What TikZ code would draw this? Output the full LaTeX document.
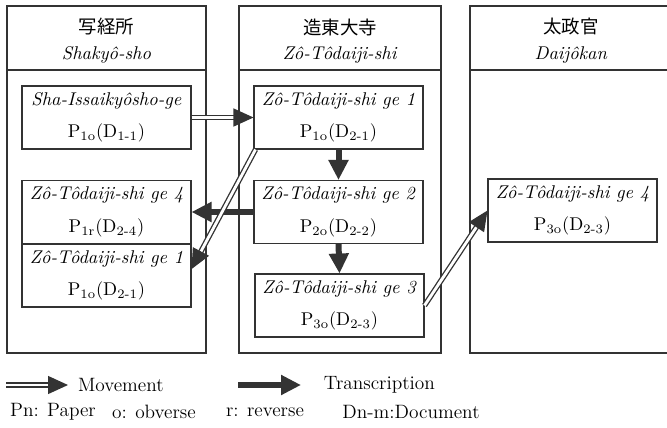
\documentclass[tikz,border=0pt]{standalone}
\usepackage{fontspec}
\newfontfamily\cjk{Noto Sans CJK JP}
\usetikzlibrary{arrows.meta,calc}
\tikzset
{
  office/.style={draw=black!80,line width=0.7pt},
  docbox/.style={draw=black!80,line width=0.6pt,minimum width=3.38cm,minimum height=1.26cm,inner sep=0pt,align=center},
  movement/.style={draw=black!80,double,double distance=1.6pt,line width=0.75pt,-{Triangle[length=0.4cm,width=0.36cm]}},
  transcription/.style={draw=black!80,line width=0.12cm,-{Triangle[length=0.4cm,width=0.38cm]}},
  legend/.style={font=\fontsize{11}{13}\selectfont}
}
\newcommand{\pd}[2]{P\textsubscript{#1}(D\textsubscript{#2})}
\newcommand{\doc}[3]{\textit{#1}\\[6pt]\pd{#2}{#3}}

\begin{document}
\begin{tikzpicture}[x=0.02cm,y=-0.02cm,every node/.style={font=\fontsize{10.5}{12.5}\selectfont}]
  \useasboundingbox (0,0) rectangle (667,427);
  % uradi
  \foreach \xa/\xb/\jp/\rom/\name in {7/206/写経所/Shakyô-sho/shakyo,239/441/造東大寺/Zô-Tôdaiji-shi/zotodaiji,470/672/太政官/Daijôkan/daijokan}
  {
    \draw[office] (\xa,6) rectangle (\xb,353);
    \draw[office] (\xa,70) -- (\xb,70);
    \node (\name-jp)  at ({(\xa+\xb)/2},27) {\cjk\jp};
    \node (\name-rom) at ({(\xa+\xb)/2},55) {\textit{\rom}};
  }
  % dokumenti
  \node[docbox] (sha1) at (106.5,117.5) {\doc{Sha-Issaikyôsho-ge}{1o}{1-1}};
  \node[docbox] (sha2) at (106.5,212) {\doc{Zô-Tôdaiji-shi ge 4}{1r}{2-4}};
  \node[docbox] (sha3) at (106.5,275.5) {\doc{Zô-Tôdaiji-shi ge 1}{1o}{2-1}};
  \node[docbox] (zo1)  at (338.5,117.5) {\doc{Zô-Tôdaiji-shi ge 1}{1o}{2-1}};
  \node[docbox] (zo2)  at (338.5,212)   {\doc{Zô-Tôdaiji-shi ge 2}{2o}{2-2}};
  \node[docbox] (zo3)  at (339.5,305.5) {\doc{Zô-Tôdaiji-shi ge 3}{3o}{2-3}};
  \node[docbox] (dai1) at (572.5,210.5) {\doc{Zô-Tôdaiji-shi ge 4}{3o}{2-3}};
  % prepisi
  \draw[transcription] (zo1.south) -- (zo2.north);
  \draw[transcription] (zo2.south) -- (zo3.north);
  \draw[transcription] (zo2.west) -- (sha2.east);
  % premiki
  \draw[movement] (sha1.east) -- (zo1.west);
  \draw[movement] ($(zo1.south west)+(2,0)$) -- ($(sha3.north east)!0.4!(sha3.south east)$);
  \draw[movement] (zo3.east) -- (dai1.west);
  % legenda
  \coordinate (m0) at (6,385);
  \coordinate (m1) at (68,385);
  \coordinate (t0) at (238,385);
  \coordinate (t1) at (301,385);
  \draw[movement] (m0) -- (m1) node (mov) [legend,right=2pt] {Movement};
  \draw[transcription] (t0) -- (t1) node (tra) [legend,right=8pt] {Transcription};
  \node[legend] (pn)  at (53,412)  {Pn: Paper};
  \node[legend] (obv) at (154,412) {o: obverse};
  \node[legend] (rev) at (265,412) {r: reverse};
  \node[legend] (dnm) at (411,412) {Dn-m:Document};
\end{tikzpicture}
\end{document}
